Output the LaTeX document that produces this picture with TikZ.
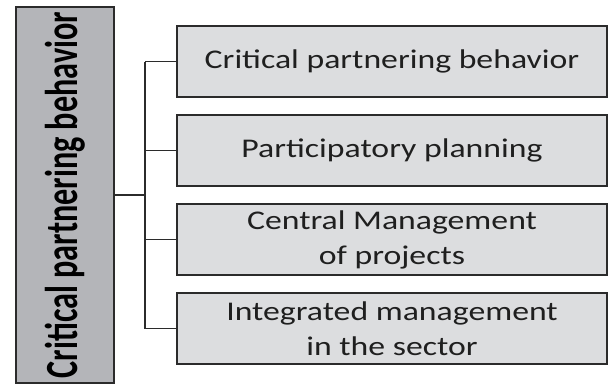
\documentclass[tikz,border=0pt]{standalone}
\usepackage{fontspec}
\setmainfont{Carlito}
\newfontfamily\narrowfont[FakeStretch=0.70]{Carlito}
\newfontfamily\wideface[FakeStretch=1.25]{Carlito}
\usepackage{tikz}
\usetikzlibrary{positioning}
\definecolor{leadgray}{HTML}{B4B5B9}
\definecolor{itemgray}{HTML}{DCDDDF}
\definecolor{edgegray}{HTML}{2B2B2B}
\tikzset{
  itembox/.style={draw=edgegray,line width=1.5pt,fill=itemgray,minimum width=430pt,
    minimum height=71pt,inner sep=2pt,outer sep=0pt,align=center,text=black!88,
    font=\wideface\fontsize{27}{35}\selectfont},
  link/.style={draw=edgegray,line width=1.3pt}
}

\begin{document}
\begin{tikzpicture}[x=1pt,y=1pt,node distance=18pt]
  \useasboundingbox (0,0) rectangle (608,384);
  \node[draw=edgegray,line width=1.5pt,fill=leadgray,minimum width=376pt,minimum height=98pt,
    outer sep=0pt,rotate=90,font=\narrowfont\bfseries\fontsize{46}{50}\selectfont](lead) at (65,189)
    {Critical partnering behavior};
  \node[itembox](b1) at (392,322.5){Critical partnering behavior};
  \node[itembox,below=of b1](b2){Participatory planning};
  \node[itembox,below=of b2](b3){Central Management\\of projects};
  \node[itembox,below=of b3](b4){Integrated management\\in the sector};
  \draw[link] (lead.south) -- ++(31,0) coordinate (hub);
  \draw[link] (b1.west -| hub) -- (b4.west -| hub);
  \foreach \n in {b1,b2,b3,b4}
    \draw[link] (\n.west) -- (\n.west -| hub);
\end{tikzpicture}
\end{document}
